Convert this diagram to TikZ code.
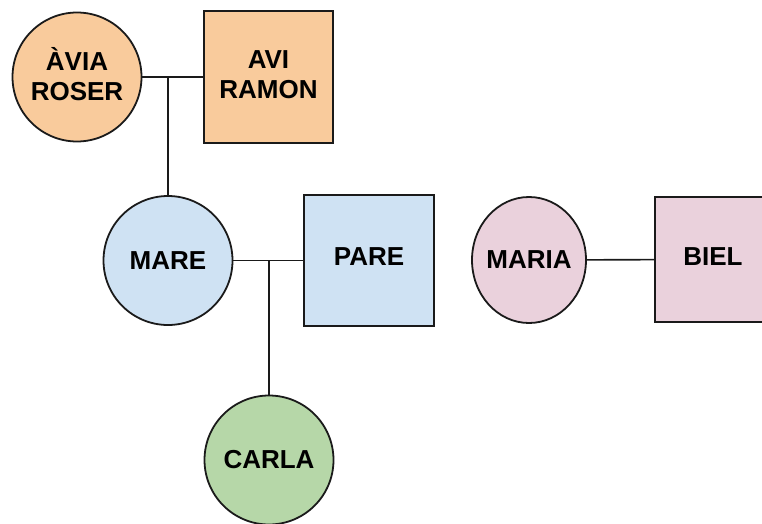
\documentclass[tikz,border=0pt]{standalone}
\usepackage{fontspec}
\setmainfont{Liberation Sans}
\usetikzlibrary{shapes.geometric}
\definecolor{orangefill}{HTML}{F9CB9C}
\definecolor{bluefill}{HTML}{CFE2F3}
\definecolor{greenfill}{HTML}{B6D7A8}
\definecolor{pinkfill}{HTML}{EAD1DC}
\definecolor{linecol}{HTML}{1A1A1A}
\tikzset{
  person/.style={draw=linecol, line width=1.8pt, inner sep=0pt, align=center,
    font=\fontsize{26}{30}\selectfont\bfseries},
  female/.style={person, circle, minimum size=129pt},
  male/.style={person, rectangle},
  link/.style={draw=linecol, line width=1.6pt}
}
\begin{document}
\begin{tikzpicture}[x=1pt,y=-1pt]
\useasboundingbox (0,0) rectangle (762,524);
\clip (0,0) rectangle (762,524);
% grandparents
\node[female, fill=orangefill] (avia) at (77,77) {\raisebox{6pt}{ÀVIA}\\\raisebox{6pt}{ROSER}};
\node[male, fill=orangefill, minimum width=129pt, minimum height=132pt] (avi) at (268.5,77) {\raisebox{4pt}{AVI}\\\raisebox{4pt}{RAMON}};
% parents
\node[female, fill=bluefill] (mare) at (168,260.5) {MARE};
\node[male, fill=bluefill, minimum width=130pt, minimum height=131pt] (pare) at (369,260.5) {\raisebox{7pt}{PARE}};
% child
\node[female, fill=greenfill] (carla) at (269,460) {\makebox[0pt]{CARLA}};
% other couple
\node[person, ellipse, fill=pinkfill, minimum width=114pt, minimum height=126pt] (maria) at (529,260) {\makebox[0pt]{MARIA}};
\node[male, fill=pinkfill, minimum width=116pt, minimum height=125pt] (biel) at (713,259.5) {\raisebox{5pt}{BIEL}};
% connectors
\coordinate (j1) at (168,77);
\coordinate (j2) at (269,260.5);
\draw[link] (avia) -- (avi);
\draw[link] (j1) -- (mare);
\draw[link] (mare) -- (pare);
\draw[link] (j2) -- (carla);
\draw[link] (maria) -- (biel);
\end{tikzpicture}
\end{document}
